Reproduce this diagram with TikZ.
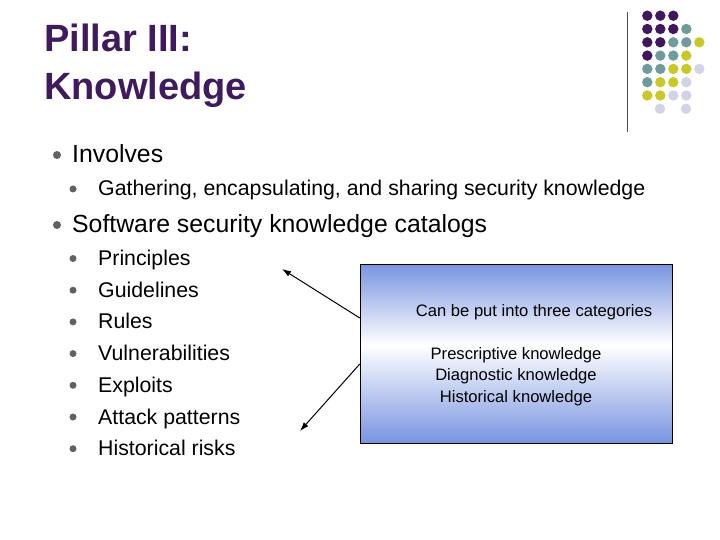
\documentclass[tikz,border=0pt]{standalone}
\usepackage{fontspec}
\usetikzlibrary{arrows.meta}
\setmainfont{Liberation Sans}
\definecolor{tpurple}{HTML}{3F1A5E}
\definecolor{dP}{HTML}{40175E}
\definecolor{dT}{HTML}{6E9C9C}
\definecolor{dY}{HTML}{C9C923}
\definecolor{dL}{HTML}{D2D2E8}
\definecolor{bx}{HTML}{7894E0}
\begin{document}
\begin{tikzpicture}[x=1pt,y=-1pt,
  bul/.style={circle,fill=black!62,inner sep=0pt,minimum size=#1},
  lone/.style={anchor=base west,font=\fontsize{24.8}{27}\selectfont,inner sep=0pt},
  ltwo/.style={anchor=base west,font=\fontsize{21.3}{24}\selectfont,inner sep=0pt},
  ttl/.style={anchor=base west,font=\fontsize{38}{42}\selectfont\bfseries,text=tpurple,inner sep=0pt},
  btxt/.style={font=\fontsize{16.6}{19}\selectfont,inner sep=0pt},
  arr/.style={-{Latex[length=9pt,width=6pt]},line width=1pt}]
\useasboundingbox (0,0) rectangle (720,540);
\node[ttl] (t1) at (44,52) {Pillar III:};
\node[ttl] (t2) at (44,100) {Knowledge};
\draw[black!70] (627,12) -- (627,132);
\foreach \r/\row in {0/{P,P,P},1/{P,P,P,T},2/{P,P,T,T,Y},3/{P,T,T,Y},4/{T,T,Y,Y,L},5/{T,Y,Y,L},6/{Y,Y,L,L}}{
  \foreach \c [count=\i from 0] in \row {
    \fill[d\c] (647.3+\i*13, 15.7+\r*13.3) circle (5.2);
  }
}
\fill[dL] (660,108.7) circle (5.2);
\fill[dL] (686,108.7) circle (5.2);
\node[bul=8pt] (b1) at (57,155) {};
\node[lone] (l1) at (72,163) {Involves};
\node[bul=7pt] (b1a) at (73,189) {};
\node[ltwo] (l1a) at (98,196) {Gathering, encapsulating, and sharing security knowledge};
\node[bul=8pt] (b2) at (57,225) {};
\node[lone] (l2) at (72,233) {Software security knowledge catalogs};
\foreach \t [count=\i from 0] in {Principles,Guidelines,Rules,Vulnerabilities,Exploits,Attack patterns,Historical risks}{
  \node[bul=7pt] (s\i) at (73,258.5+\i*31.7) {};
  \node[ltwo] (i\i) at (98,265.5+\i*31.7) {\t};
}
\shade[top color=bx,bottom color=white,draw=none] (360,264) rectangle (672,345);
\shade[top color=white,bottom color=bx,draw=none] (360,345) rectangle (672,443);
\node[draw=black,minimum width=312pt,minimum height=179pt,inner sep=0pt] (box) at (516,353.5) {};
\node[btxt] (c0) at (534,312) {Can be put into three categories};
\node[btxt] (c1) at (516,355) {Prescriptive knowledge};
\node[btxt] (c2) at (516,376) {Diagnostic knowledge};
\node[btxt] (c3) at (516,398) {Historical knowledge};
\coordinate (a1) at (282,269);
\coordinate (a2) at (300,431);
\draw[arr] (box.west |- 0,318) -- (a1);
\draw[arr] (box.west |- 0,364) -- (a2);
\end{tikzpicture}
\end{document}
